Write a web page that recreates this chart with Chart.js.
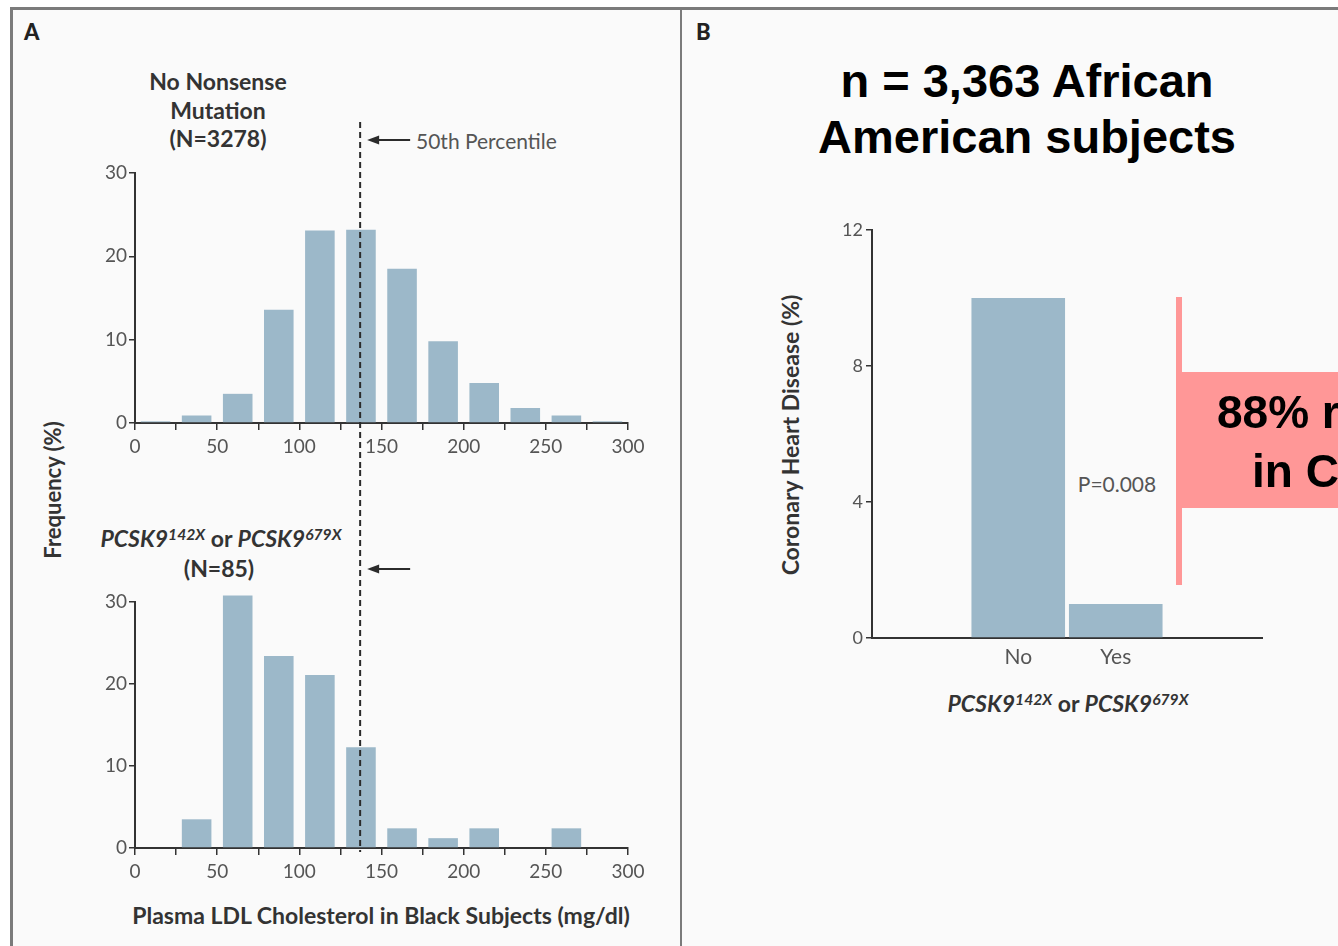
<!DOCTYPE html>
<html>
<head>
<meta charset="utf-8">
<script src="https://cdn.jsdelivr.net/npm/chart.js@4.4.1/dist/chart.umd.min.js"></script>
<style>
  html, body { margin: 0; padding: 0; width: 1338px; height: 946px; overflow: hidden; background: #fff; font-family: Lato, sans-serif; }
  .frame { position: absolute; left: 10px; top: 7px; width: 1400px; height: 1000px; border: 3px solid #7b7b7b; background: #fafafa; box-sizing: border-box; }
  .divider { position: absolute; left: 680px; top: 7px; width: 2px; height: 940px; background: #7b7b7b; }
  .box { position: absolute; }
  .c { position: absolute; transform: translate(-50%, -50%); white-space: nowrap; text-align: center; }
  .rot { position: absolute; transform: translate(-50%, -50%) rotate(-90deg); white-space: nowrap; }
  .lbl { font-weight: 700; color: #333; font-size: 23px; }
  .panel { position: absolute; font-weight: 900; font-size: 22px; color: #222; }
  .big { position: absolute; font-family: "Liberation Sans", Arial, sans-serif; font-weight: 700; color: #000; white-space: nowrap; }
  sup { font-size: 0.68em; vertical-align: 0.45em; line-height: 0; }
</style>
</head>
<body>
<div class="frame"></div>
<div class="divider"></div>

<div class="panel" style="left:24px; top:18px;">A</div>
<div class="panel" style="left:696px; top:18px;">B</div>

<!-- panel A texts -->
<div class="c lbl" style="left:218px; top:110px; line-height:28.5px;">No Nonsense<br>Mutation<br>(N=3278)</div>
<div class="c" style="left:416px; top:140px; transform: translate(0, -50%); font-size:21px; color:#555;">50th Percentile</div>
<div class="c lbl" style="left:221px; top:538px;"><i>PCSK9</i><sup><i>142X</i></sup> or <i>PCSK9</i><sup><i>679X</i></sup></div>
<div class="c lbl" style="left:219px; top:568px;">(N=85)</div>
<div class="rot lbl" style="left:52px; top:490px; font-size:22px;">Frequency (%)</div>
<div class="c lbl" style="left:381px; top:915px;">Plasma LDL Cholesterol in Black Subjects (mg/dl)</div>

<div class="box" style="left:12px; top:100px; width:668px; height:370px;"><canvas id="histTop"></canvas></div>
<div class="box" style="left:12px; top:470px; width:668px; height:470px;"><canvas id="histBottom"></canvas></div>

<!-- panel B texts -->
<div class="big" style="left:1027px; top:53px; transform: translateX(-50%); font-size:47px; line-height:56px; text-align:center;">n = 3,363 African<br>American subjects</div>
<div class="rot lbl" style="left:790px; top:435px; font-size:23px;">Coronary Heart Disease (%)</div>
<div class="c lbl" style="left:1068px; top:703px; font-size:23px;"><i>PCSK9</i><sup><i>142X</i></sup> or <i>PCSK9</i><sup><i>679X</i></sup></div>
<div class="c" style="left:1117px; top:483px; font-size:21px; color:#555;">P=0.008</div>

<div class="box" style="left:700px; top:200px; width:620px; height:480px;"><canvas id="chdChart"></canvas></div>

<!-- pink callout -->
<div class="box" style="left:1176px; top:297px; width:6px; height:288px; background:#ff9797;"></div>
<div class="box" style="left:1176px; top:372px; width:200px; height:136px; background:#ff9797;"></div>
<div class="big" style="left:1217px; top:383px; font-size:46px; line-height:59px;">88% reduction</div>
<div class="big" style="left:1252px; top:442px; font-size:46px; line-height:59px;">in CHD</div>

<script>
// LDL bins (mg/dl), 25 wide
const ldlBinMid = [12.5, 37.5, 62.5, 87.5, 112.5, 137.5, 162.5, 187.5, 212.5, 237.5, 262.5, 287.5];
const freqNoMutation = [0.2, 0.9, 3.5, 13.6, 23.1, 23.2, 18.5, 9.8, 4.8, 1.8, 0.9, 0.2];
const freqNonsense = [0, 3.5, 30.8, 23.4, 21.1, 12.3, 2.4, 1.2, 2.4, 0, 2.4, 0];
const ldlTickLabels = [0, 50, 100, 150, 200, 250, 300];
const freqTicks = [0, 10, 20, 30];
const medianLDL = 137;

// panel B
const chdGroups = ['', 'No', 'Yes', ''];
const chdRate = [null, 10.0, 1.0, null];
const chdTicks = [0, 4, 8, 12];

const barColor = '#9cb8c9';
const axisColor = '#333';
const tickColor = '#555';
const tickFont = { family: 'Lato', size: 19 };

// dashed 50th percentile line + arrow
const medianMarker = {
    id: 'medianMarker',
    afterDatasetsDraw(chart, args, opts) {
        const ctx = chart.ctx;
        const x = chart.scales.x.getPixelForValue(medianLDL);
        const y1 = opts.toAxis ? chart.chartArea.bottom + 4 : chart.height;
        ctx.save();
        ctx.strokeStyle = '#2b2b2b';
        ctx.fillStyle = '#2b2b2b';
        ctx.lineWidth = 2;
        ctx.setLineDash([6, 4]);
        ctx.beginPath();
        ctx.moveTo(x, opts.top);
        ctx.lineTo(x, y1);
        ctx.stroke();
        ctx.setLineDash([]);
        const ay = opts.arrowY;
        ctx.beginPath();
        ctx.moveTo(x + 16, ay);
        ctx.lineTo(x + 50, ay);
        ctx.stroke();
        ctx.beginPath();
        ctx.moveTo(x + 7, ay);
        ctx.lineTo(x + 19, ay - 4.5);
        ctx.lineTo(x + 19, ay + 4.5);
        ctx.closePath();
        ctx.fill();
        ctx.restore();
    }
};

function histConfig(values, padding, marker) {
    return {
        type: 'bar',
        data: {
            datasets: [{
                data: ldlBinMid.map((m, i) => ({ x: m, y: values[i] })),
                backgroundColor: barColor,
                borderWidth: 0,
                barPercentage: 0.72,
                categoryPercentage: 1,
                clip: false
            }]
        },
        options: {
            responsive: true,
            maintainAspectRatio: false,
            animation: false,
            layout: { padding: padding },
            plugins: {
                legend: { display: false },
                tooltip: { enabled: false },
                medianMarker: marker
            },
            scales: {
                x: {
                    type: 'linear',
                    min: 0,
                    max: 300,
                    offset: false,
                    afterFit: s => { s.height = 40; },
                    border: { display: true, color: axisColor, width: 2 },
                    grid: { drawOnChartArea: false, drawTicks: true, tickLength: 7, color: axisColor, lineWidth: 1.5, offset: false },
                    ticks: {
                        stepSize: 25,
                        autoSkip: false,
                        maxRotation: 0,
                        padding: 5,
                        color: tickColor,
                        font: tickFont,
                        callback: v => ldlTickLabels.includes(v) ? String(v) : ''
                    }
                },
                y: {
                    min: 0,
                    max: 30,
                    afterFit: s => { s.width = 40; },
                    afterBuildTicks: s => { s.ticks = freqTicks.map(v => ({ value: v })); },
                    border: { display: true, color: axisColor, width: 2 },
                    grid: { drawOnChartArea: false, drawTicks: true, tickLength: 6, color: axisColor, lineWidth: 1.5 },
                    ticks: { padding: 2, color: tickColor, font: tickFont }
                }
            }
        },
        plugins: [medianMarker]
    };
}

new Chart(document.getElementById('histTop'),
    histConfig(freqNoMutation, { left: 83, right: 52, top: 73, bottom: 7 }, { top: 22, arrowY: 40, toAxis: false }));

new Chart(document.getElementById('histBottom'),
    histConfig(freqNonsense, { left: 83, right: 52, top: 132, bottom: 52 }, { top: 0, arrowY: 99, toAxis: true }));

new Chart(document.getElementById('chdChart'), {
    type: 'bar',
    data: {
        labels: chdGroups,
        datasets: [{
            data: chdRate,
            backgroundColor: barColor,
            borderWidth: 0,
            barPercentage: 0.96,
            categoryPercentage: 1
        }]
    },
    options: {
        responsive: true,
        maintainAspectRatio: false,
        animation: false,
        layout: { padding: { left: 142, right: 58, top: 30, bottom: 2 } },
        plugins: { legend: { display: false }, tooltip: { enabled: false } },
        scales: {
            x: {
                afterFit: s => { s.height = 40; },
                border: { display: true, color: axisColor, width: 2 },
                grid: { display: false, drawTicks: false },
                ticks: { padding: 7, color: tickColor, font: { family: 'Lato', size: 21 } }
            },
            y: {
                min: 0,
                max: 12,
                afterFit: s => { s.width = 30; },
                afterBuildTicks: s => { s.ticks = chdTicks.map(v => ({ value: v })); },
                border: { display: true, color: axisColor, width: 2 },
                grid: { drawOnChartArea: false, drawTicks: true, tickLength: 6, color: axisColor, lineWidth: 1.5 },
                ticks: { padding: 3, color: tickColor, font: { family: 'Lato', size: 18 } }
            }
        }
    }
});
</script>
</body>
</html>
